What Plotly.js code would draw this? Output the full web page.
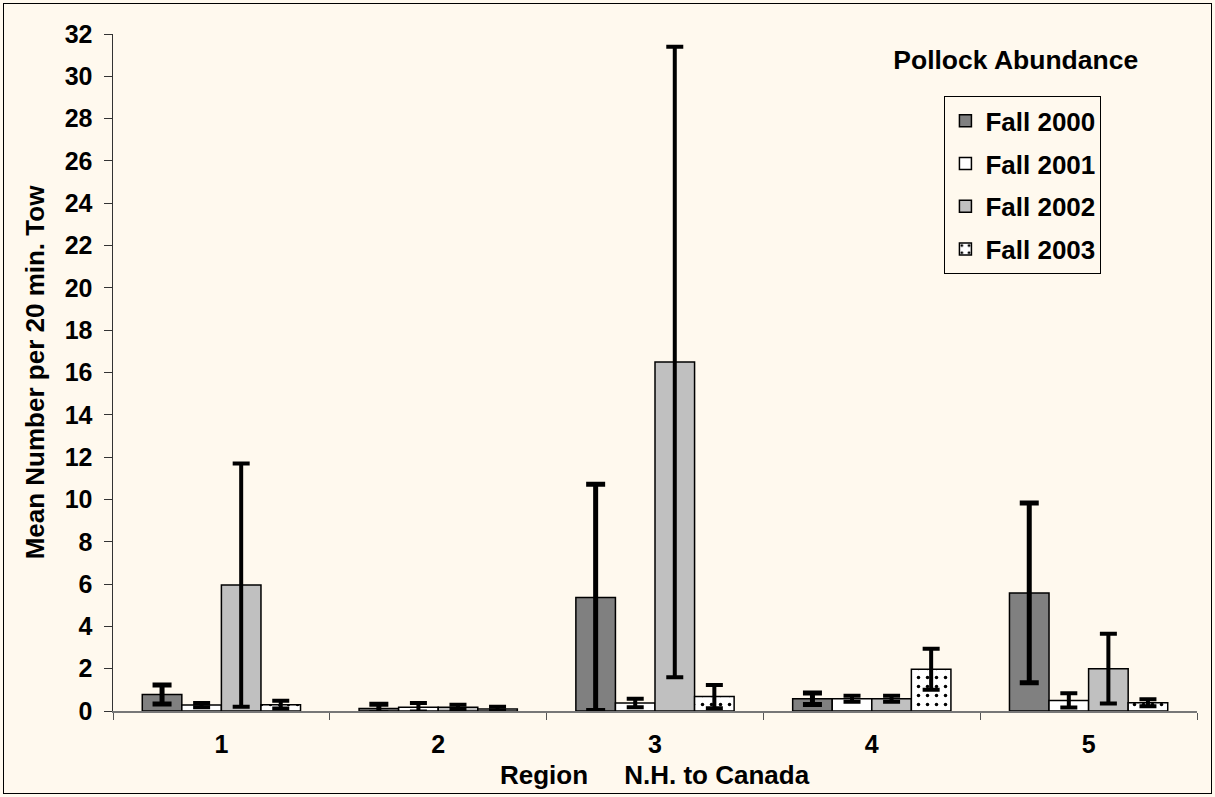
<!DOCTYPE html>
<html>
<head>
<meta charset="utf-8">
<script src="https://cdn.plot.ly/plotly-3.0.1.min.js"></script>
<style>
  html, body { margin: 0; padding: 0; background: #FFF9EE; }
  #chart { width: 1215px; height: 797px; }
  #frame { position: absolute; left: 3px; top: 3px; width: 1207px; height: 789px;
           border: 1.5px solid #000; pointer-events: none; }
</style>
</head>
<body>
<div id="chart"></div>
<div id="frame"></div>
<script>
// ---- data ----
const regions = ['1', '2', '3', '4', '5'];
const seriesNames = ['Fall 2000', 'Fall 2001', 'Fall 2002', 'Fall 2003'];

const fall2000 = [0.78, 0.12, 5.37, 0.58, 5.58];
const fall2001 = [0.28, 0.18, 0.38, 0.58, 0.50];
const fall2002 = [5.95, 0.18, 16.50, 0.58, 2.00];
const fall2003 = [0.30, 0.10, 0.68, 1.97, 0.39];

const err2000 = [0.45, 0.20, 5.35, 0.27, 4.25];
const err2001 = [0.10, 0.20, 0.20, 0.14, 0.34];
const err2002 = [5.75, 0.12, 14.90, 0.14, 1.65];
const err2003 = [0.18, 0.10, 0.55, 0.97, 0.17];

const yTicks = [0, 2, 4, 6, 8, 10, 12, 14, 16, 18, 20, 22, 24, 26, 28, 30, 32];

// ---- styles ----
const FONT = 'Liberation Sans, Arial, sans-serif';
const fills = ['#808080', '#FFFFFF', '#C0C0C0', '#FFFFFF'];
const errThick = [5, 4, 4, 4];
const errWidth = [9.5, 8.5, 8.5, 8.5];
const values = [fall2000, fall2001, fall2002, fall2003];
const errors = [err2000, err2001, err2002, err2003];

const traces = seriesNames.map((name, i) => {
  const marker = { color: fills[i], line: { color: '#000', width: 1.5 } };
  if (i === 3) {
    marker.pattern = { shape: '.', fgcolor: '#000', bgcolor: '#FFFFFF', size: 9, solidity: 0.12 };
  }
  return {
    type: 'bar',
    name: name,
    x: regions,
    y: values[i],
    legendgroup: 'g' + i,
    marker: marker,
    error_y: { type: 'data', array: errors[i], visible: true, color: '#000',
               thickness: errThick[i], width: errWidth[i] },
    hoverinfo: 'x+y+name'
  };
});

const layout = {
  width: 1215,
  height: 797,
  paper_bgcolor: '#FFF9EE',
  plot_bgcolor: '#FFF9EE',
  margin: { l: 113, r: 18, t: 34, b: 86 },
  barmode: 'group',
  bargap: 0.27,
  bargroupgap: 0,
  showlegend: true,
  font: { family: FONT, color: '#000', size: 25, weight: 'bold' },
  title: {
    text: 'Pollock Abundance',
    font: { family: FONT, size: 26.5, weight: 'bold', color: '#000' },
    x: 0.836, xref: 'container', xanchor: 'center',
    y: 0.925, yref: 'container', yanchor: 'middle'
  },
  legend: {
    x: 0.767, xanchor: 'left',
    y: 0.908, yanchor: 'top',
    bgcolor: '#FFF9EE',
    bordercolor: '#000',
    borderwidth: 1,
    traceorder: 'grouped',
    tracegroupgap: 6,
    font: { family: FONT, size: 26, weight: 'bold', color: '#000' },
    itemwidth: 30
  },
  xaxis: {
    type: 'category',
    tickvals: regions,
    ticktext: regions,
    tickson: 'boundaries',
    ticks: 'outside',
    ticklen: 7,
    tickcolor: '#555',
    showline: true,
    linecolor: '#777',
    linewidth: 1.5,
    showgrid: false,
    zeroline: false,
    ticklabelstandoff: 10,
    tickfont: { family: FONT, size: 25, weight: 'bold', color: '#000' }
  },
  yaxis: {
    range: [0, 32],
    tickvals: yTicks,
    ticktext: yTicks.map(String),
    ticks: 'outside',
    ticklen: 8,
    tickcolor: '#333',
    showline: true,
    linecolor: '#333',
    linewidth: 1.5,
    showgrid: false,
    zeroline: false,
    ticklabelstandoff: 6,
    tickfont: { family: FONT, size: 25, weight: 'bold', color: '#000' },
    title: {
      text: 'Mean Number per 20 min. Tow',
      font: { family: FONT, size: 26, weight: 'bold', color: '#000' },
      standoff: 12
    }
  },
  annotations: [{
    text: 'Region\u00A0\u00A0\u00A0\u00A0\u00A0N.H. to Canada',
    xref: 'paper', yref: 'paper',
    x: 0.5, y: -(776 - 711.5) / 678,
    xanchor: 'center', yanchor: 'middle',
    showarrow: false,
    font: { family: FONT, size: 26, weight: 'bold', color: '#000' }
  }]
};

Plotly.newPlot('chart', traces, layout, { displayModeBar: false, staticPlot: true });
</script>
</body>
</html>
